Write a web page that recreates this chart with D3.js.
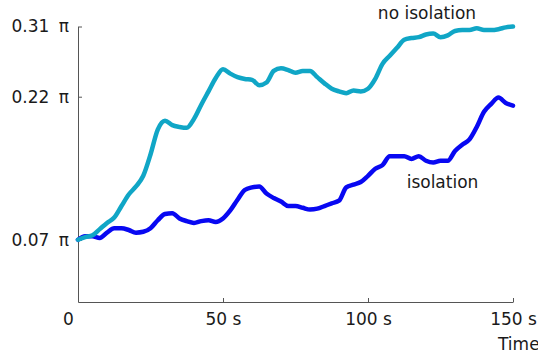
<!DOCTYPE html>
<html>
<head>
<meta charset="utf-8">
<script src="https://cdn.jsdelivr.net/npm/d3@7"></script>
<style>
  body { margin: 0; background: #fff; }
  svg { display: block; }
</style>
</head>
<body>
<svg width="538" height="356"></svg>
<script>
// time in seconds, values in units of pi
const times = [0, 2.5, 5, 7.5, 10, 12.5, 15, 17.5, 20, 22.5, 25, 27.5, 30, 32.5, 35, 37.5, 40, 42.5, 45, 47.5,
               50, 52.5, 55, 57.5, 60, 62.5, 65, 67.5, 70, 72.5, 75, 77.5, 80, 82.5, 85, 87.5, 90, 92.5, 95, 97.5,
               100, 102.5, 105, 107.5, 110, 112.5, 115, 117.5, 120, 122.5, 125, 127.5, 130, 132.5, 135, 137.5, 140, 142.5, 145, 147.5, 150];

const noIsolation = [0.070, 0.073, 0.075, 0.082, 0.089, 0.095, 0.108, 0.121, 0.130, 0.142, 0.166, 0.194, 0.204, 0.199, 0.197, 0.196, 0.206, 0.222, 0.237, 0.252,
                     0.262, 0.257, 0.253, 0.251, 0.250, 0.244, 0.247, 0.260, 0.263, 0.261, 0.258, 0.260, 0.260, 0.253, 0.246, 0.240, 0.237, 0.235, 0.238, 0.237,
                     0.240, 0.251, 0.268, 0.277, 0.286, 0.295, 0.297, 0.298, 0.301, 0.302, 0.298, 0.300, 0.305, 0.306, 0.306, 0.308, 0.306, 0.306, 0.307, 0.309, 0.310];

const isolation = [0.070, 0.074, 0.074, 0.072, 0.078, 0.083, 0.083, 0.081, 0.078, 0.079, 0.083, 0.092, 0.099, 0.100, 0.094, 0.091, 0.089, 0.091, 0.092, 0.090,
                   0.094, 0.103, 0.115, 0.126, 0.129, 0.130, 0.122, 0.117, 0.113, 0.108, 0.108, 0.106, 0.104, 0.105, 0.108, 0.111, 0.114, 0.129, 0.132, 0.135,
                   0.142, 0.150, 0.154, 0.164, 0.164, 0.164, 0.161, 0.164, 0.159, 0.157, 0.159, 0.159, 0.170, 0.177, 0.183, 0.197, 0.214, 0.223, 0.230, 0.224, 0.221];

const xTickValues = [0, 50, 100, 150];
const xTickLabels = ["0", "50 s", "100 s", "150 s"];
const yTickValues = [0.07, 0.231, 0.31];
const yTickLabels = ["0.07 π", "0.22 π", "0.31 π"];

const svg = d3.select("svg");
const font = "'DejaVu Sans', Verdana, sans-serif";

const x = d3.scaleLinear().domain([0, 150]).range([78, 513]);
const y = d3.scaleLinear().domain([0, 0.31]).range([302, 26.5]);

// x axis, ticks pointing up
const xAxis = d3.axisBottom(x)
    .tickValues(xTickValues)
    .tickFormat((d, i) => xTickLabels[i])
    .tickSizeInner(-4)
    .tickSizeOuter(0)
    .tickPadding(11);

const gx = svg.append("g")
    .attr("transform", `translate(0, ${y(0)})`)
    .call(xAxis);

// y axis, ticks pointing right
const yAxis = d3.axisLeft(y)
    .tickValues(yTickValues)
    .tickFormat((d, i) => yTickLabels[i])
    .tickSizeInner(-4)
    .tickSizeOuter(0)
    .tickPadding(9);

const gy = svg.append("g")
    .attr("transform", `translate(${x(0)}, 0)`)
    .call(yAxis);

[gx, gy].forEach(g => {
    g.select(".domain").attr("stroke", "#555");
    g.selectAll(".tick line").attr("stroke", "#555");
    g.selectAll("text")
        .attr("font-family", font)
        .attr("font-size", "17px")
        .attr("fill", "#1a1a1a");
});
gy.selectAll("text").attr("word-spacing", "4px");

// "0" sits left of the origin, no tick mark there
gx.selectAll(".tick").filter(d => d === 0).select("line").remove();
gx.selectAll(".tick").filter(d => d === 0).select("text").attr("dx", -10);

// x label
svg.append("text")
    .attr("x", 498)
    .attr("y", 350)
    .attr("font-family", font)
    .attr("font-size", "17px")
    .attr("fill", "#1a1a1a")
    .text("Time");

const line = d3.line()
    .x((d, i) => x(times[i]))
    .y(d => y(d))
    .curve(d3.curveMonotoneX);

svg.append("path")
    .datum(isolation)
    .attr("d", line)
    .attr("fill", "none")
    .attr("stroke", "#0808f2")
    .attr("stroke-width", 4.5)
    .attr("stroke-linejoin", "round")
    .attr("stroke-linecap", "round");

svg.append("path")
    .datum(noIsolation)
    .attr("d", line)
    .attr("fill", "none")
    .attr("stroke", "#10a6c6")
    .attr("stroke-width", 4.5)
    .attr("stroke-linejoin", "round")
    .attr("stroke-linecap", "round");

// series labels
svg.append("text")
    .attr("x", 427)
    .attr("y", 19)
    .attr("text-anchor", "middle")
    .attr("font-family", font)
    .attr("font-size", "17px")
    .attr("fill", "#1a1a1a")
    .text("no isolation");

svg.append("text")
    .attr("x", 442.5)
    .attr("y", 188)
    .attr("text-anchor", "middle")
    .attr("font-family", font)
    .attr("font-size", "17px")
    .attr("fill", "#1a1a1a")
    .text("isolation");
</script>
</body>
</html>
